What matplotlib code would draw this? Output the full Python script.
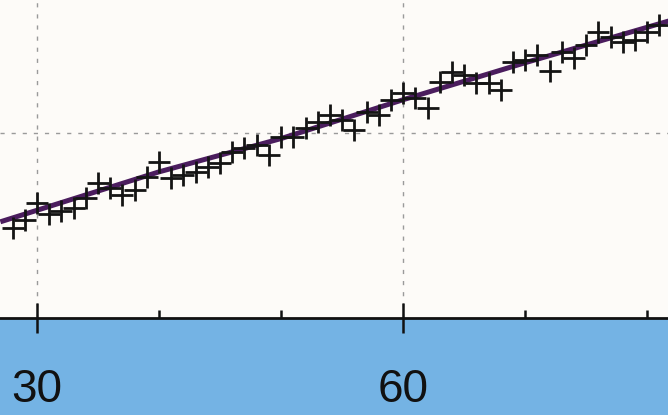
import matplotlib
matplotlib.use("Agg")
import matplotlib.pyplot as plt
from matplotlib.ticker import MultipleLocator, NullFormatter

# Observations: one value per unit step on the x axis
x_vals = list(range(28, 82))
y_vals = [4.86, 5.30, 6.22, 5.62, 5.78, 5.95, 6.49, 7.30, 7.03, 6.65,
          6.92, 7.62, 8.43, 7.57, 7.73, 7.89, 8.16, 8.38, 8.97, 9.19,
          9.35, 8.81, 9.78, 9.78, 10.27, 10.59, 10.97, 10.70, 10.16, 11.14,
          10.97, 11.78, 12.16, 11.89, 11.35, 12.76, 13.30, 13.14, 12.70, 12.70,
          12.32, 13.84, 13.95, 14.22, 13.35, 14.38, 14.05, 14.76, 15.46, 15.19,
          14.92, 15.03, 15.46, 15.84]

# Trend line through the series
trend_x = [27, 40, 50, 60, 70, 82]
trend_y = [5.2, 7.9, 9.7, 11.8, 13.8, 16.1]

labeled_ticks = [30, 60]

W, H = 668, 415
fig = plt.figure(figsize=(W / 100, H / 100), dpi=100)
fig.patch.set_facecolor("#74b3e4")

band = 97 / H
ax = fig.add_axes([0, band, 1, 1 - band])
ax.set_facecolor("#fdfbf8")

ax.plot(trend_x, trend_y, color="#4b1d5e", linewidth=3.6, zorder=3,
        solid_capstyle="butt")
ax.plot(x_vals, y_vals, linestyle="none", marker="+", markersize=16,
        markeredgewidth=2.0, color="#141414", zorder=4)

ax.set_xlim(26.97, 81.7)
ax.set_ylim(0, 17.19)

for side in ("top", "right", "left"):
    ax.spines[side].set_visible(False)
ax.spines["bottom"].set_linewidth(2.0)
ax.spines["bottom"].set_color("#111111")

ax.xaxis.set_major_locator(plt.FixedLocator(labeled_ticks))
ax.xaxis.set_minor_locator(MultipleLocator(10))
ax.xaxis.set_minor_formatter(NullFormatter())
ax.tick_params(axis="x", which="major", direction="inout", length=22,
               width=1.8, color="#111111", pad=25, labelsize=33,
               labelcolor="#111111")
ax.tick_params(axis="x", which="minor", direction="in", length=6,
               width=1.8, color="#111111")
for lab in ax.get_xticklabels():
    lab.set_fontfamily("Liberation Sans")

ax.yaxis.set_major_locator(plt.FixedLocator([10]))
ax.tick_params(axis="y", which="both", length=0, labelleft=False)

ax.grid(True, which="major", linestyle=(0, (3, 5)), color="#9a9a9a",
        linewidth=1.0)
ax.set_axisbelow(True)

fig.savefig("out.png", dpi=100, facecolor=fig.get_facecolor())
